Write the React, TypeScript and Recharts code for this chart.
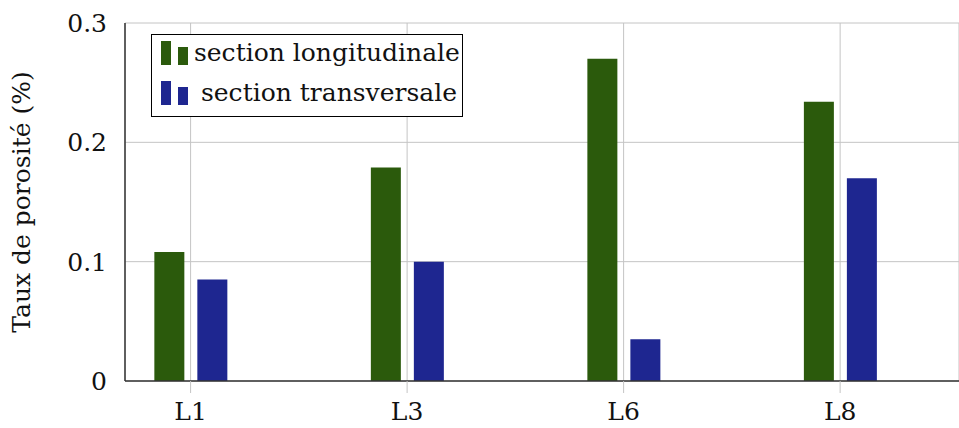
import React from 'react';
import { BarChart, Bar, XAxis, YAxis, CartesianGrid } from 'recharts';

const samples = ['L1', 'L3', 'L6', 'L8'];
const longitudinale = [0.108, 0.179, 0.27, 0.234];
const transversale = [0.085, 0.1, 0.035, 0.17];
const yTicks = [0, 0.1, 0.2, 0.3];
const seriesNames = ['section longitudinale', 'section transversale'];
const seriesColors = ['#2b5a0c', '#1e2690'];

const data = samples.map((s, i) => ({
  x: i,
  label: s,
  lon: longitudinale[i],
  tra: transversale[i],
}));

const FONT = 'DejaVu Serif';
const GRID = '#c4c4c4';

const YLabel = () => (
  <text
    x={30}
    y={202}
    transform="rotate(-90 30 202)"
    textAnchor="middle"
    fontFamily={FONT}
    fontSize={25}
    fill="#111"
  >
    Taux de porosité (%)
  </text>
);

function LegendBox() {
  return (
    <div
      style={{
        position: 'absolute',
        left: 151,
        top: 34,
        width: 310,
        height: 81,
        border: '1.5px solid #000',
        background: '#fff',
        fontFamily: FONT,
        fontSize: 25,
        color: '#111',
      }}
    >
      {seriesNames.map((name, i) => (
        <div key={name} style={{ position: 'absolute', left: 0, top: i === 0 ? 0 : 40, height: 40, width: '100%' }}>
          <div style={{ position: 'absolute', left: 9, top: 6, width: 10, height: 24, background: seriesColors[i] }} />
          <div style={{ position: 'absolute', left: 26, top: 12, width: 10, height: 18, background: seriesColors[i] }} />
          <div style={{ position: 'absolute', left: i === 0 ? 42 : 49, top: 1, lineHeight: '34px', whiteSpace: 'nowrap' }}>
            {name}
          </div>
        </div>
      ))}
    </div>
  );
}

export default function App() {
  return (
    <div style={{ position: 'absolute', left: 0, top: 0, width: 959, height: 428, background: '#fff', fontFamily: FONT }}>
      <BarChart
        width={959}
        height={428}
        data={data}
        margin={{ top: 23, right: 0, left: 0, bottom: 0 }}
        barSize={30}
        barGap={13}
      >
        <CartesianGrid stroke={GRID} strokeWidth={1} />
        <XAxis
          dataKey="x"
          type="number"
          domain={[-0.303, 3.549]}
          allowDataOverflow
          ticks={[0, 1, 2, 3]}
          tickFormatter={(v: number) => samples[v]}
          height={47}
          axisLine={{ stroke: '#333', strokeWidth: 1.5 }}
          tickLine={{ stroke: GRID, strokeWidth: 1 }}
          tickSize={12}
          tickMargin={9}
          tick={{ fontFamily: FONT, fontSize: 25, fill: '#111' }}
        />
        <XAxis
          xAxisId="top"
          orientation="top"
          dataKey="x"
          type="number"
          domain={[-0.303, 3.549]}
          allowDataOverflow
          ticks={[0, 1, 2, 3]}
          height={0}
          axisLine={{ stroke: '#333', strokeWidth: 1.5 }}
          tickLine={{ stroke: GRID, strokeWidth: 1 }}
          tickSize={13}
          tick={() => <g />}
        />
        <YAxis
          type="number"
          domain={[0, 0.3]}
          ticks={yTicks}
          width={125}
          axisLine={{ stroke: '#333', strokeWidth: 1.5 }}
          tickLine={false}
          tickMargin={12}
          tickFormatter={(v: number) => (v === 0 ? '0' : v.toFixed(1))}
          tick={{ fontFamily: FONT, fontSize: 25, fill: '#111' }}
          label={{ content: () => <YLabel /> }}
        />
        <Bar dataKey="lon" name={seriesNames[0]} fill={seriesColors[0]} isAnimationActive={false} />
        <Bar dataKey="tra" name={seriesNames[1]} fill={seriesColors[1]} isAnimationActive={false} />
      </BarChart>
      <LegendBox />
    </div>
  );
}
